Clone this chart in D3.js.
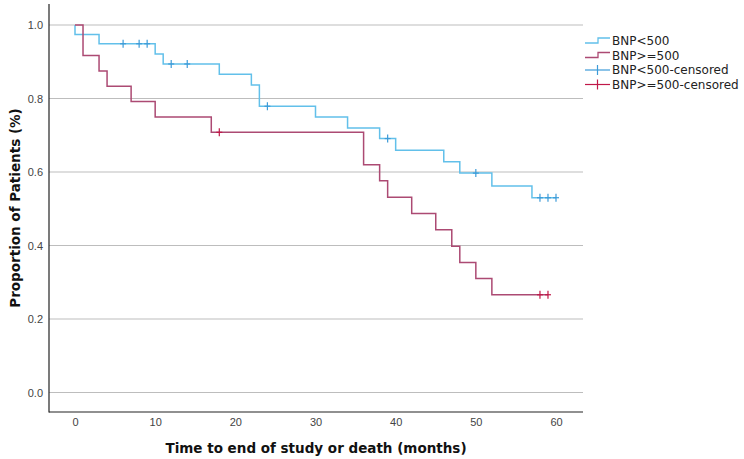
<!DOCTYPE html>
<html>
<head>
<meta charset="utf-8">
<script src="https://cdn.jsdelivr.net/npm/d3@7"></script>
<style>
  body { margin: 0; background: #fff; }
  svg { display: block; font-family: "DejaVu Sans", sans-serif; }
  .grid line { stroke: #bdbdbd; stroke-width: 1; }
  .tick text { fill: #444; font-size: 11px; }
  .axistitle { font-weight: bold; font-size: 13.5px; fill: #111; }
  .legend { font-size: 12px; fill: #222; }
</style>
</head>
<body>
<svg id="chart" width="744" height="459"></svg>
<script>
// BNP < 500 group: event times (months) and survival after each event
const lowTimes  = [0, 0, 3, 10, 11, 18, 22, 23, 30, 34, 38, 40, 46, 48, 52, 57];
const lowValues = [1, 0.974, 0.949, 0.921, 0.894, 0.866, 0.837, 0.779, 0.750, 0.720, 0.691, 0.659, 0.628, 0.597, 0.562, 0.530];
const lowEnd = 60;
const lowCensored = [6, 8, 9, 12, 14, 24, 39, 50, 58, 59, 60];

// BNP >= 500 group
const highTimes  = [0, 1, 3, 4, 7, 10, 17, 36, 38, 39, 42, 45, 47, 48, 50, 52];
const highValues = [1, 0.917, 0.875, 0.833, 0.792, 0.750, 0.708, 0.620, 0.576, 0.531, 0.487, 0.443, 0.398, 0.354, 0.310, 0.266];
const highEnd = 59;
const highCensored = [18, 58, 59];

const xTicks = [0, 10, 20, 30, 40, 50, 60];
const yTicks = [0.0, 0.2, 0.4, 0.6, 0.8, 1.0];
const legendLabels = ["BNP<500", "BNP>=500", "BNP<500-censored", "BNP>=500-censored"];

const blueLine = "#62c0ea", blueCens = "#3d9bd8";
const redLine = "#ac4a73", redCens = "#c01848";

const svg = d3.select("#chart");

const xScale = d3.scaleLinear().domain([0, 60]).range([75, 556]);
const yScale = d3.scaleLinear().domain([0, 1]).range([392.5, 25]);

// gridlines
svg.append("g").attr("class", "grid")
  .selectAll("line").data(yTicks).join("line")
  .attr("x1", 49).attr("x2", 583)
  .attr("y1", d => yScale(d)).attr("y2", d => yScale(d));

// axes (no tick marks, only labels)
let yAxis = d3.axisLeft(yScale).tickValues(yTicks).tickFormat(d3.format(".1f")).tickSize(0).tickPadding(6);
let yg = svg.append("g").attr("transform", "translate(49,0)").call(yAxis);
yg.select(".domain").remove();
let xAxis = d3.axisBottom(xScale).tickValues(xTicks).tickSize(0).tickPadding(6);
let xg = svg.append("g").attr("transform", "translate(0,412)").call(xAxis);
xg.select(".domain").remove();

svg.append("line").attr("x1", 49).attr("x2", 49).attr("y1", 4).attr("y2", 412.5)
  .attr("stroke", "#222").attr("stroke-width", 1.2);
svg.append("line").attr("x1", 49).attr("x2", 583).attr("y1", 412).attr("y2", 412)
  .attr("stroke", "#222").attr("stroke-width", 1.2);

svg.append("text").attr("class", "axistitle").attr("text-anchor", "middle")
  .attr("x", 316).attr("y", 453).text("Time to end of study or death (months)");
svg.append("text").attr("class", "axistitle").attr("text-anchor", "middle")
  .attr("transform", "translate(20,208) rotate(-90)").text("Proportion of Patients (%)");

// survival curves
function stepPoints(times, values, end) {
  let pts = times.map((t, i) => [t, values[i]]);
  pts.push([end, values[values.length - 1]]);
  return pts;
}
function valueAt(times, values, t) {
  let v = values[0];
  times.forEach((tt, i) => { if (tt <= t) v = values[i]; });
  return v;
}
let stepLine = d3.line().x(d => xScale(d[0])).y(d => yScale(d[1])).curve(d3.curveStepAfter);

svg.append("path").attr("d", stepLine(stepPoints(lowTimes, lowValues, lowEnd)))
  .attr("fill", "none").attr("stroke", blueLine).attr("stroke-width", 1.5);
svg.append("path").attr("d", stepLine(stepPoints(highTimes, highValues, highEnd)))
  .attr("fill", "none").attr("stroke", redLine).attr("stroke-width", 1.5);

function drawCensors(times, vt, vv, color) {
  let g = svg.append("g").attr("stroke", color).attr("stroke-width", 1.2);
  times.forEach(t => {
    let cx = xScale(t), cy = yScale(valueAt(vt, vv, t));
    g.append("line").attr("x1", cx).attr("x2", cx).attr("y1", cy - 4).attr("y2", cy + 4);
    g.append("line").attr("x1", cx - 3).attr("x2", cx + 3).attr("y1", cy).attr("y2", cy);
  });
}
drawCensors(lowCensored, lowTimes, lowValues, blueCens);
drawCensors(highCensored, highTimes, highValues, redCens);

// legend
let lg = svg.append("g");
let rowY = [41, 55.5, 70, 84.5];
[blueLine, redLine].forEach((c, i) => {
  let y = rowY[i];
  lg.append("path").attr("d", `M585,${y + 2}H598V${y - 3}H610`)
    .attr("fill", "none").attr("stroke", c).attr("stroke-width", 1.3);
});
[blueCens, redCens].forEach((c, i) => {
  let y = rowY[i + 2];
  lg.append("line").attr("x1", 585).attr("x2", 610).attr("y1", y).attr("y2", y)
    .attr("stroke", c).attr("stroke-width", 1.2);
  lg.append("line").attr("x1", 597.5).attr("x2", 597.5).attr("y1", y - 5).attr("y2", y + 5)
    .attr("stroke", c).attr("stroke-width", 1.2);
});
legendLabels.forEach((l, i) => {
  lg.append("text").attr("class", "legend").attr("x", 612).attr("y", rowY[i] + 4).text(l);
});
</script>
</body>
</html>
